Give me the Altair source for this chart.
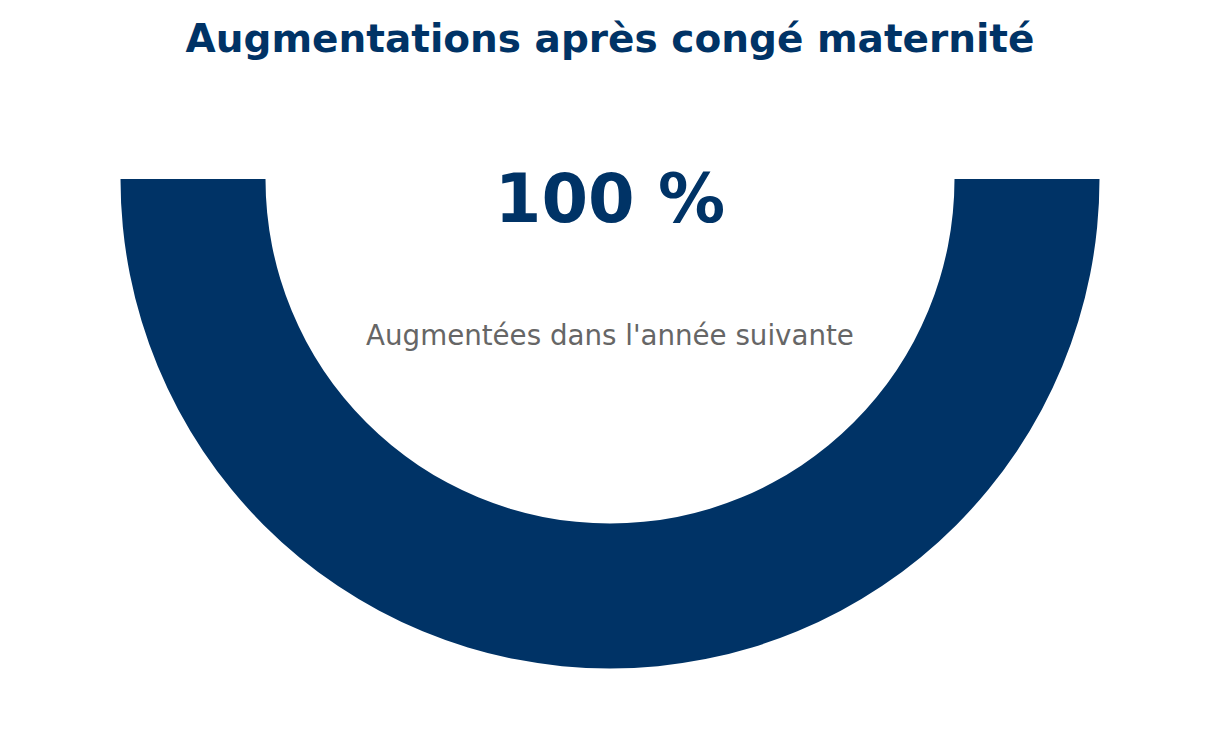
import math
import altair as alt
import pandas as pd

categories = ["Augmentées", "Non augmentées"]
values = [100, 0]
colors = ["#003366", "#d9d9d9"]

title_text = "Augmentations après congé maternité"
big_text = "100 %"
sub_text = "Augmentées dans l'année suivante"

df = pd.DataFrame({"cat": categories, "val": values})

arc = alt.Chart(df).mark_arc(outerRadius=489.5, innerRadius=344.5).encode(
    theta=alt.Theta("val:Q", stack=True,
                    scale=alt.Scale(domain=[0, 100], range=[math.pi / 2, 3 * math.pi / 2])),
    color=alt.Color("cat:N", scale=alt.Scale(domain=categories, range=colors), legend=None),
    order=alt.Order("cat:N"),
    x=alt.value(602),
    y=alt.value(171),
)

lab = pd.DataFrame({"t": [title_text]})
title = alt.Chart(lab).mark_text(font="DejaVu Sans", fontSize=39, fontWeight="bold",
                                 color="#003366", baseline="alphabetic", align="center").encode(
    text="t:N", x=alt.value(602), y=alt.value(44))

big = alt.Chart(pd.DataFrame({"t": [big_text]})).mark_text(
    font="DejaVu Sans", fontSize=67, fontWeight="bold", color="#003366",
    baseline="alphabetic", align="center").encode(text="t:N", x=alt.value(602), y=alt.value(214))

sub = alt.Chart(pd.DataFrame({"t": [sub_text]})).mark_text(
    font="DejaVu Sans", fontSize=27.7, color="#666666",
    baseline="alphabetic", align="center").encode(text="t:N", x=alt.value(602), y=alt.value(337))

chart = alt.layer(arc, title, big, sub).properties(
    width=1204, height=722, padding=0,
    autosize=alt.AutoSizeParams(type="none"),
).configure_view(stroke=None)

chart.save("out.html", embed_options={"renderer": "svg", "actions": False})
